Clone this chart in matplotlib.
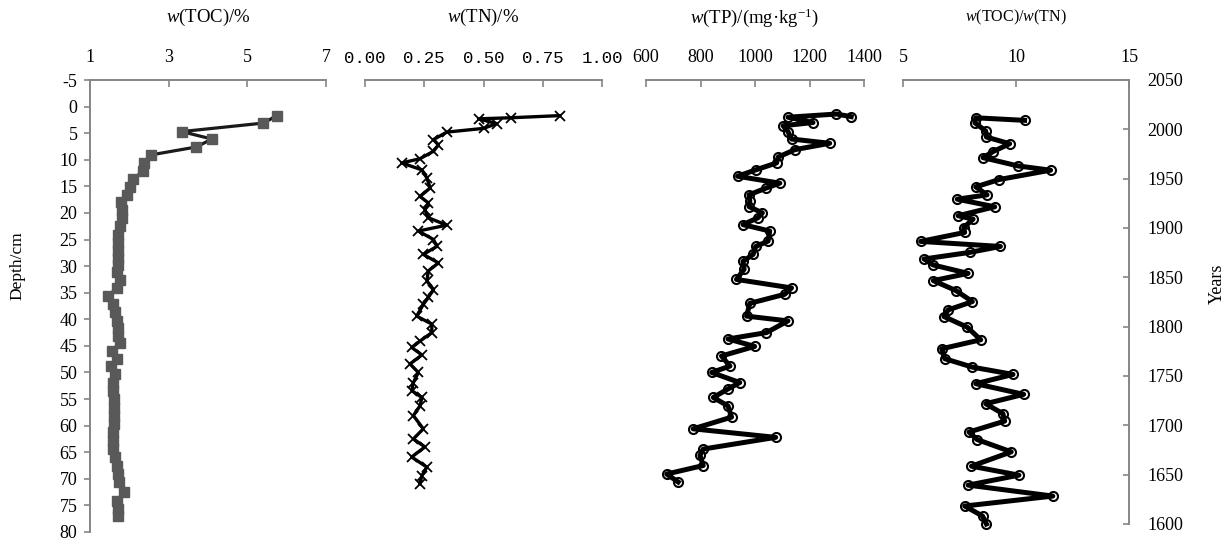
import matplotlib
matplotlib.use("Agg")
import matplotlib.pyplot as plt

# Depth profiles
toc_depth = [1.7, 3.1, 4.7, 6.1, 7.6, 9.1, 10.6, 12.1, 13.6, 15.1, 16.6, 18.0, 19.4, 20.9, 22.5,
             24.1, 25.6, 27.2, 28.4, 29.7, 31.2, 32.6, 34.2, 35.6, 37.2, 38.7, 40.3, 41.6, 43.1,
             44.5, 45.9, 47.4, 48.7, 50.3, 51.9, 53.4, 55.0, 56.6, 58.1, 59.7, 61.2, 62.8, 64.4,
             65.9, 67.5, 69.1, 70.6, 72.5, 74.1, 75.6, 76.9]
toc = [5.75, 5.41, 3.33, 4.10, 3.70, 2.54, 2.38, 2.36, 2.10, 2.02, 1.95, 1.78, 1.81, 1.82, 1.76,
       1.72, 1.70, 1.70, 1.72, 1.72, 1.68, 1.76, 1.68, 1.45, 1.59, 1.64, 1.68, 1.72, 1.72,
       1.76, 1.55, 1.68, 1.53, 1.64, 1.59, 1.59, 1.62, 1.62, 1.62, 1.62, 1.59, 1.59, 1.59,
       1.64, 1.68, 1.72, 1.74, 1.87, 1.68, 1.70, 1.70]

tn_depth = [1.7, 2.1, 2.3, 3.2, 4.1, 4.8, 6.2, 7.2, 8.4, 9.8, 10.6, 11.9, 13.4, 15.3, 16.9,
            18.1, 19.4, 20.9, 22.3, 23.4, 25.0, 26.3, 27.8, 29.4, 30.9, 32.8, 34.4, 35.9, 37.2,
            39.4, 40.9, 42.5, 44.1, 45.3, 46.7, 48.4, 50.0, 51.9, 53.4, 54.7, 56.3, 58.1, 60.6,
            62.5, 64.0, 65.9, 67.8, 69.4, 70.9]
tn = [0.821, 0.616, 0.479, 0.556, 0.500, 0.345, 0.289, 0.310, 0.289, 0.232, 0.155, 0.240, 0.261,
      0.275, 0.232, 0.267, 0.253, 0.267, 0.345, 0.225, 0.289, 0.303, 0.246, 0.310, 0.267, 0.261,
      0.289, 0.267, 0.246, 0.218, 0.282, 0.282, 0.232, 0.197, 0.240, 0.190, 0.225, 0.204, 0.197,
      0.240, 0.232, 0.204, 0.246, 0.204, 0.253, 0.197, 0.261, 0.240, 0.232]

tp_depth = [1.9, 1.4, 2.0, 3.0, 3.6, 4.7, 6.1, 6.9, 8.1, 9.5, 10.6, 11.9, 13.1, 14.4, 15.3,
            16.6, 17.8, 18.8, 20.0, 20.9, 22.2, 23.4, 25.3, 26.3, 27.8, 29.1, 30.6, 32.5, 34.1,
            35.3, 37.0, 39.4, 40.3, 42.5, 43.7, 45.1, 46.9, 48.8, 50.0, 51.9, 53.1, 54.7, 56.3,
            58.4, 60.6, 62.2, 64.4, 65.6, 67.5, 69.1, 70.6]
tp = [1353, 1299, 1121, 1213, 1103, 1121, 1134, 1274, 1146, 1085, 1079, 1003, 936, 1091, 1042,
      978, 981, 978, 1027, 1011, 956, 1054, 1048, 1003, 993, 956, 960, 932, 1134,
      1109, 981, 969, 1121, 1042, 901, 999, 877, 908, 841, 944, 901, 847, 901,
      914, 773, 1076, 810, 798, 810, 676, 718]

ratio_year = [2009.1, 2011.7, 2006.7, 1998.3, 1992.2, 1985.4, 1977.4, 1971.3, 1962.9, 1958.6,
              1949.1, 1941.7, 1933.6, 1929.2, 1921.5, 1912.4, 1909.0, 1900.5, 1895.5, 1886.4,
              1881.3, 1875.3, 1868.6, 1862.5, 1854.0, 1846.7, 1836.6, 1825.4, 1817.0, 1810.3,
              1799.5, 1786.7, 1777.6, 1767.5, 1759.0, 1751.6, 1742.2, 1731.4, 1721.9, 1711.8,
              1704.3, 1693.2, 1685.6, 1673.1, 1658.6, 1649.5, 1639.4, 1628.3, 1618.2, 1608.1,
              1600.0]
ratio = [10.38, 8.22, 8.18, 8.66, 8.69, 9.72, 8.98, 8.54, 10.09, 11.53,
         9.25, 8.22, 8.72, 7.40, 9.06, 7.44, 8.10, 7.69, 7.73, 5.78,
         9.31, 7.96, 5.93, 6.34, 7.88, 6.34, 7.34, 8.07, 7.00, 6.81,
         7.84, 8.44, 6.71, 6.85, 8.07, 9.87, 8.22, 10.34, 8.66, 9.42,
         9.50, 7.92, 8.28, 9.79, 8.03, 10.13, 7.88, 11.63, 7.73, 8.52,
         8.69]

depth_ticks = list(range(-5, 81, 5))
year_ticks = list(range(1600, 2051, 50))

plt.rcParams["font.family"] = ["Liberation Serif", "DejaVu Serif"]
plt.rcParams["mathtext.fontset"] = "custom"
plt.rcParams["mathtext.rm"] = "Liberation Serif"
plt.rcParams["mathtext.it"] = "Liberation Serif:italic"
plt.rcParams["axes.unicode_minus"] = False

W, H = 1232, 545
fig = plt.figure(figsize=(W / 100, H / 100), dpi=100)

spine_col = "#868686"


def make_axes(x0, x1, ytop, ybot):
    return fig.add_axes([x0 / W, (H - ybot) / H, (x1 - x0) / W, (ybot - ytop) / H])


def style_top(ax, xmin, xmax, ticks, labels=None, mono=False):
    for s in ax.spines.values():
        s.set_visible(False)
    ax.spines["top"].set_visible(True)
    ax.spines["top"].set_color(spine_col)
    ax.spines["top"].set_linewidth(1.4)
    ax.set_xlim(xmin, xmax)
    ax.xaxis.tick_top()
    ax.set_xticks(ticks)
    if labels is not None:
        ax.set_xticklabels(labels)
    ax.tick_params(axis="x", direction="in", length=5, width=1.2, color=spine_col,
                   labelsize=13, pad=10)
    if mono:
        for t in ax.get_xticklabels():
            t.set_fontfamily("Liberation Mono")
            t.set_fontsize(12.5)
    ax.patch.set_alpha(0)


def add_title(ax, text, size=13.5):
    ax.annotate(text, xy=(0.5, 1), xycoords="axes fraction", xytext=(0, 45),
                textcoords="offset points", ha="center", va="center", fontsize=size)


# Panel 1: TOC vs depth
ax1 = make_axes(90, 326, 80, 532)
style_top(ax1, 1, 7, [1, 3, 5, 7])
ax1.spines["left"].set_visible(True)
ax1.spines["left"].set_color(spine_col)
ax1.spines["left"].set_linewidth(1.4)
ax1.set_ylim(80, -5)
ax1.set_yticks(depth_ticks)
ax1.tick_params(axis="y", direction="out", length=4, width=1.2, color=spine_col,
                labelsize=13, pad=5)
ax1.plot(toc, toc_depth, color="#1a1a1a", lw=2.3, marker="s", ms=7.5,
         mfc="#595959", mec="#595959", clip_on=False)
ax1.set_ylabel("Depth/cm", fontsize=12.5)
ax1.yaxis.set_label_coords(-0.275, 0.59)
add_title(ax1, r"$\mathit{w}$(TOC)/%")

# Panel 2: TN vs depth
ax2 = make_axes(365, 602, 80, 532)
style_top(ax2, 0, 1, [0, 0.25, 0.5, 0.75, 1.0],
          ["0.00", "0.25", "0.50", "0.75", "1.00"], mono=True)
ax2.set_ylim(80, -5)
ax2.set_yticks([])
ax2.plot(tn, tn_depth, color="black", lw=2.4, marker="x", ms=6.5, mew=1.3, clip_on=False)
add_title(ax2, r"$\mathit{w}$(TN)/%")

# Panel 3: TP vs depth
ax3 = make_axes(646, 864, 80, 532)
style_top(ax3, 600, 1400, [600, 800, 1000, 1200, 1400])
ax3.set_ylim(80, -5)
ax3.set_yticks([])
ax3.plot(tp, tp_depth, ls="none", marker="o", ms=6.5, mfc="white", mec="black",
         mew=1.5, zorder=2, clip_on=False)
ax3.plot(tp, tp_depth, color="black", lw=3.6, zorder=3, clip_on=False)
add_title(ax3, r"$\mathit{w}$(TP)/(mg·kg$^{-1}$)")

# Panel 4: TOC/TN vs years
ax4 = make_axes(903, 1129, 80, 524)
style_top(ax4, 5, 15, [5, 10, 15])
ax4.spines["right"].set_visible(True)
ax4.spines["right"].set_color(spine_col)
ax4.spines["right"].set_linewidth(1.4)
ax4.set_ylim(1600, 2050)
ax4.yaxis.tick_right()
ax4.set_yticks(year_ticks)
ax4.tick_params(axis="y", direction="in", length=4, width=1.2, color=spine_col,
                labelsize=13, pad=13)
ax4.plot(ratio, ratio_year, ls="none", marker="o", ms=6.5, mfc="white", mec="black",
         mew=1.5, zorder=2, clip_on=False)
ax4.plot(ratio, ratio_year, color="black", lw=3.6, zorder=3, clip_on=False)
ax4.yaxis.set_label_position("right")
ax4.set_ylabel("Years", fontsize=13)
ax4.yaxis.set_label_coords(1.355, 0.54)
add_title(ax4, r"$\mathit{w}$(TOC)/$\mathit{w}$(TN)", size=11.5)

fig.savefig("out.png", dpi=100)
